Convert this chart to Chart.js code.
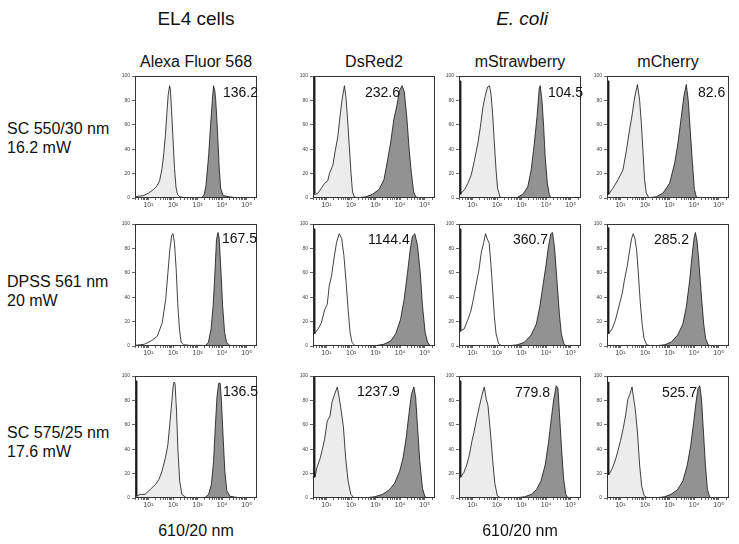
<!DOCTYPE html>
<html>
<head>
<meta charset="utf-8">
<script src="https://cdn.jsdelivr.net/npm/chart.js@4.4.0/dist/chart.umd.min.js"></script>
<style>
  body { margin: 0; background: #fff; }
  #fig { position: relative; width: 739px; height: 544px; font-family: "Liberation Sans", Arial, sans-serif; color: #111; }
  #fig div.t { position: absolute; white-space: nowrap; }
  #fig canvas { position: absolute; }
</style>
</head>
<body>
<div id="fig"></div>
<script>
// ===== data (x = log10 of fluorescence, y = % of max) =====
const groupTitles = ["EL4 cells", "E. coli"];
const colLabels = ["Alexa Fluor 568", "DsRed2", "mStrawberry", "mCherry"];
const rowLabels = [["SC 550/30 nm", "16.2 mW"], ["DPSS 561 nm", "20 mW"], ["SC 575/25 nm", "17.6 mW"]];
const axisLabel = "610/20 nm";
const yTicks = [0, 20, 40, 60, 80, 100];
const xDecades = [1, 2, 3, 4, 5];
const xTickLabels = ["10¹", "10²", "10³", "10⁴", "10⁵"];
const indexValues = [
  ["136.2", "232.6", "104.5", "82.6"],
  ["167.5", "1144.4", "360.7", "285.2"],
  ["136.5", "1237.9", "779.8", "525.7"]
];

// row 1: SC 550/30 nm
const negSc550Alexa = [[0.45,1],[0.6,1.5],[0.8,2],[1.0,4],[1.2,7],[1.35,10],[1.45,14],[1.55,24],[1.62,36],[1.69,52],[1.75,70],[1.80,84],[1.86,92],[1.89,89],[1.94,72],[2.00,48],[2.06,24],[2.12,9],[2.18,3],[2.28,1],[2.45,0.3],[2.6,0]];
const posSc550Alexa = [[3.1,0],[3.18,0.5],[3.27,3],[3.34,10],[3.45,35],[3.53,60],[3.60,80],[3.65,92],[3.70,88],[3.74,80],[3.81,55],[3.88,25],[3.94,8],[4.04,2],[4.28,1],[4.55,0.3],[4.68,0]];
const negSc550DsRed = [[0.47,0],[0.47,99],[0.52,99],[0.52,3],[0.56,3],[0.65,4],[0.79,8],[0.92,12],[1.05,14],[1.12,20],[1.26,27],[1.35,38],[1.46,50],[1.55,67],[1.63,80],[1.73,92],[1.79,83],[1.86,64],[1.93,42],[2.00,20],[2.06,5],[2.13,1],[2.26,0]];
const posSc550DsRed = [[2.20,0],[2.60,1],[2.87,3],[3.14,7],[3.34,15],[3.47,29],[3.61,45],[3.74,64],[3.88,77],[3.97,88],[4.08,92],[4.17,87],[4.28,64],[4.37,39],[4.46,20],[4.55,5],[4.64,1],[4.75,0]];
const negSc550Straw = [[0.47,0],[0.47,96],[0.52,96],[0.52,3],[0.54,4],[0.68,7],[0.81,12],[0.95,19],[1.08,31],[1.22,45],[1.32,58],[1.42,74],[1.51,83],[1.61,91],[1.69,92],[1.75,86],[1.82,69],[1.89,45],[1.96,23],[2.02,8],[2.12,1],[2.22,0]];
const posSc550Straw = [[2.78,0],[3.05,3],[3.25,9],[3.39,23],[3.52,45],[3.63,67],[3.72,90],[3.76,92],[3.83,80],[3.90,58],[3.96,34],[4.05,12],[4.13,3],[4.19,0]];
const negSc550Cherry = [[0.47,0],[0.47,96],[0.52,96],[0.52,3],[0.55,4],[0.69,8],[0.90,15],[1.10,23],[1.24,39],[1.37,56],[1.48,69],[1.58,83],[1.69,93],[1.78,80],[1.85,61],[1.92,37],[1.98,15],[2.05,4],[2.16,0]];
const posSc550Cherry = [[2.05,0],[2.46,1],[2.73,4],[3.00,12],[3.21,29],[3.34,45],[3.48,67],[3.58,83],[3.68,93],[3.76,80],[3.84,56],[3.93,29],[4.01,7],[4.09,1],[4.15,0]];

// row 2: DPSS 561 nm
const negDpssAlexa = [[0.45,0.5],[0.83,1.4],[1.09,4],[1.36,8],[1.56,19],[1.70,38],[1.79,60],[1.87,79],[1.95,91],[2.00,92],[2.06,84],[2.13,62],[2.19,35],[2.26,14],[2.33,3],[2.43,1],[2.70,0.5],[3.17,0.5],[3.37,0]];
const posDpssAlexa = [[3.30,0],[3.44,3],[3.55,14],[3.64,35],[3.71,62],[3.77,87],[3.83,93],[3.88,88],[3.95,62],[4.02,33],[4.10,11],[4.18,3],[4.31,0.5],[4.58,0]];
const negDpssDsRed = [[0.47,0],[0.47,96],[0.52,96],[0.52,10],[0.55,11],[0.66,14],[0.79,19],[0.93,30],[1.03,34],[1.11,49],[1.21,58],[1.30,71],[1.41,85],[1.52,92],[1.62,88],[1.71,74],[1.80,52],[1.88,30],[1.96,11],[2.04,3],[2.17,0]];
const posDpssDsRed = [[2.65,0],[3.06,0.5],[3.33,1.4],[3.61,4],[3.82,10],[4.02,22],[4.16,38],[4.30,60],[4.41,79],[4.50,90],[4.60,92],[4.71,82],[4.82,60],[4.91,33],[5.02,11],[5.12,3],[5.23,0]];
const negDpssStraw = [[0.47,0],[0.47,96],[0.52,96],[0.52,12],[0.55,13],[0.66,14],[0.80,21],[0.94,29],[1.01,36],[1.08,43],[1.18,54],[1.26,62],[1.36,77],[1.46,85],[1.53,92],[1.60,88],[1.68,84],[1.75,67],[1.82,46],[1.89,24],[1.96,10],[2.06,2],[2.20,0]];
const posDpssStraw = [[2.41,0],[2.83,1],[3.11,3],[3.39,9],[3.60,18],[3.74,32],[3.88,51],[4.00,67],[4.09,81],[4.19,92],[4.26,93],[4.34,81],[4.44,54],[4.54,26],[4.62,10],[4.72,2],[4.82,0]];
const negDpssCherry = [[0.47,0],[0.47,97],[0.52,97],[0.52,10],[0.55,11],[0.66,14],[0.79,21],[0.93,32],[1.07,43],[1.16,54],[1.27,65],[1.37,78],[1.45,88],[1.52,92],[1.59,88],[1.66,78],[1.73,59],[1.80,37],[1.88,18],[1.96,6],[2.07,1],[2.24,0]];
const posDpssCherry = [[2.37,0],[2.79,1],[3.06,3],[3.33,9],[3.54,18],[3.68,32],[3.82,54],[3.91,73],[4.00,89],[4.05,93],[4.12,86],[4.20,67],[4.30,40],[4.39,18],[4.47,6],[4.57,1],[4.68,0]];

// row 3: SC 575/25 nm
const negSc575Alexa = [[0.47,0],[0.47,96],[0.52,96],[0.52,1.4],[0.66,3],[0.86,3],[1.07,7],[1.28,11],[1.42,15],[1.55,22],[1.69,33],[1.79,44],[1.87,61],[1.94,77],[2.00,91],[2.04,95],[2.08,94],[2.14,72],[2.20,39],[2.27,14],[2.36,3],[2.52,0.5],[3.01,0]];
const posSc575Alexa = [[3.28,0],[3.45,3],[3.56,11],[3.65,30],[3.72,58],[3.79,83],[3.86,94],[3.92,94],[3.97,80],[4.04,50],[4.11,22],[4.19,6],[4.32,1.4],[4.59,0.5],[4.94,0]];
const negSc575DsRed = [[0.47,0],[0.47,99],[0.52,99],[0.52,17],[0.54,18],[0.61,25],[0.75,33],[0.82,39],[0.92,48],[1.03,63],[1.14,67],[1.23,79],[1.33,85],[1.44,91],[1.51,83],[1.58,74],[1.69,58],[1.78,33],[1.88,14],[1.99,3],[2.13,0]];
const posSc575DsRed = [[2.54,0],[2.95,1],[3.29,3],[3.57,7],[3.77,12],[3.98,22],[4.12,33],[4.25,50],[4.36,69],[4.46,85],[4.56,91],[4.63,83],[4.71,58],[4.80,30],[4.91,8],[5.01,1],[5.15,0]];
const negSc575Straw = [[0.47,0],[0.47,96],[0.52,96],[0.52,17],[0.55,18],[0.65,21],[0.76,27],[0.87,35],[0.97,46],[1.06,54],[1.17,65],[1.29,76],[1.38,84],[1.48,91],[1.56,81],[1.63,76],[1.73,54],[1.83,29],[1.91,12],[2.01,2],[2.15,0]];
const posSc575Straw = [[2.71,0],[3.12,1],[3.40,3],[3.61,7],[3.79,14],[3.96,27],[4.10,46],[4.21,65],[4.31,81],[4.41,92],[4.48,90],[4.54,70],[4.63,40],[4.71,16],[4.80,3],[4.89,0]];
const negSc575Cherry = [[0.47,0],[0.47,95],[0.52,95],[0.52,19],[0.55,20],[0.66,24],[0.79,31],[0.90,39],[1.00,47],[1.11,57],[1.21,68],[1.30,81],[1.38,85],[1.47,91],[1.52,84],[1.60,73],[1.69,54],[1.78,27],[1.86,10],[1.96,2],[2.10,0]];
const posSc575Cherry = [[2.37,0],[2.79,1],[3.06,3],[3.33,7],[3.54,14],[3.72,27],[3.86,43],[3.98,62],[4.08,79],[4.16,90],[4.23,92],[4.30,81],[4.38,54],[4.46,27],[4.54,7],[4.63,1],[4.71,0]];

const negHists = [
  [negSc550Alexa, negSc550DsRed, negSc550Straw, negSc550Cherry],
  [negDpssAlexa, negDpssDsRed, negDpssStraw, negDpssCherry],
  [negSc575Alexa, negSc575DsRed, negSc575Straw, negSc575Cherry]
];
const posHists = [
  [posSc550Alexa, posSc550DsRed, posSc550Straw, posSc550Cherry],
  [posDpssAlexa, posDpssDsRed, posDpssStraw, posDpssCherry],
  [posSc575Alexa, posSc575DsRed, posSc575Straw, posSc575Cherry]
];

// ===== layout =====
const fig = document.getElementById("fig");
const frameLeft = [135, 313, 459, 607];
const frameTop = [76, 224, 376];
const frameSize = 122;
const padL = 24, padT = 6, padR = 6, padB = 18;
const negFill = ["#ececec", "#ffffff", "#ececec"];
const posFill = "#929292";

// minor ticks 2..9 of each decade
const xMinor = [];
for (let d = 0; d <= 5; d++) {
  for (let k = 1; k <= 9; k++) {
    const v = d + Math.log10(k);
    if (v >= 0.45 && v <= 5.42) xMinor.push(v);
  }
}

function addText(txt, x, y, size, opts = {}) {
  const el = document.createElement("div");
  el.className = "t";
  el.textContent = txt;
  el.style.fontSize = size + "px";
  el.style.lineHeight = size + "px";
  el.style.top = (y - size / 2) + "px";
  if (opts.center) {
    el.style.left = (x - 100) + "px";
    el.style.width = "200px";
    el.style.textAlign = "center";
  } else {
    el.style.left = x + "px";
  }
  if (opts.italic) el.style.fontStyle = "italic";
  fig.appendChild(el);
}

const framePlugin = {
  id: "frame",
  afterDatasetsDraw(chart) {
    const a = chart.chartArea;
    const c = chart.ctx;
    c.save();
    c.strokeStyle = "#333";
    c.lineWidth = 1;
    c.strokeRect(a.left + 0.5, a.top + 0.5, a.right - a.left - 1, a.bottom - a.top - 1);
    c.restore();
  }
};

function makePanel(r, c) {
  const cv = document.createElement("canvas");
  const w = frameSize + padL + padR, h = frameSize + padT + padB;
  cv.width = w; cv.height = h;
  cv.style.width = w + "px"; cv.style.height = h + "px";
  cv.style.left = (frameLeft[c] - padL) + "px";
  cv.style.top = (frameTop[r] - padT) + "px";
  fig.appendChild(cv);

  const toXY = arr => arr.map(p => ({ x: p[0], y: p[1] }));
  new Chart(cv, {
    type: "line",
    data: {
      datasets: [
        { data: toXY(negHists[r][c]), borderColor: "#111", borderWidth: 0.8, backgroundColor: negFill[r], fill: "origin", pointRadius: 0, tension: 0 },
        { data: toXY(posHists[r][c]), borderColor: "#111", borderWidth: 0.8, backgroundColor: posFill, fill: "origin", pointRadius: 0, tension: 0 }
      ]
    },
    options: {
      responsive: false,
      animation: false,
      events: [],
      layout: { padding: { top: padT, right: padR, left: 0, bottom: 0 } },
      plugins: { legend: { display: false }, tooltip: { enabled: false } },
      scales: {
        x: {
          type: "linear", min: 0.45, max: 5.42,
          afterBuildTicks: s => { s.ticks = xMinor.map(v => ({ value: v })); },
          afterFit: s => { s.height = padB; },
          grid: { drawOnChartArea: false, tickLength: 2, color: "#666" },
          border: { display: false },
          ticks: {
            autoSkip: false, maxRotation: 0, padding: 1,
            font: { size: 7, family: "Liberation Sans" }, color: "#444",
            callback: v => {
              const i = xDecades.findIndex(d => Math.abs(d - v) < 1e-6);
              return i >= 0 ? xTickLabels[i] : "";
            }
          }
        },
        y: {
          min: 0, max: 100,
          afterBuildTicks: s => { s.ticks = yTicks.map(v => ({ value: v })); },
          afterFit: s => { s.width = padL; },
          grid: { drawOnChartArea: false, tickLength: 3, color: "#666" },
          border: { display: false },
          ticks: { padding: 2, font: { size: 5, family: "Liberation Sans" }, color: "#444" }
        }
      }
    },
    plugins: [framePlugin]
  });
}

for (let r = 0; r < 3; r++) for (let c = 0; c < 4; c++) makePanel(r, c);

// ===== texts =====
addText(groupTitles[0], 196, 18, 19, { center: true });
addText(groupTitles[1], 522, 18, 19, { center: true, italic: true });
const colCenters = frameLeft.map(l => l + frameSize / 2);
colLabels.forEach((t, i) => addText(t, colCenters[i], 62, 16, { center: true }));
const rowTextY = [[129, 148], [282, 301], [433, 452]];
rowLabels.forEach((lines, i) => lines.forEach((t, j) => addText(t, 7, rowTextY[i][j], 16)));
addText(axisLabel, colCenters[0], 531, 16, { center: true });
addText(axisLabel, colCenters[2], 531, 16, { center: true });

// stain-index labels inside panels
const idxPos = [
  [[223, 92], [365, 92], [548, 92], [698, 92]],
  [[222, 238], [368, 239], [513, 239], [654, 239]],
  [[223, 391], [357, 391], [515, 392], [662, 392]]
];
indexValues.forEach((row, r) => row.forEach((t, c) => addText(t, idxPos[r][c][0], idxPos[r][c][1], 14)));
</script>
</body>
</html>
